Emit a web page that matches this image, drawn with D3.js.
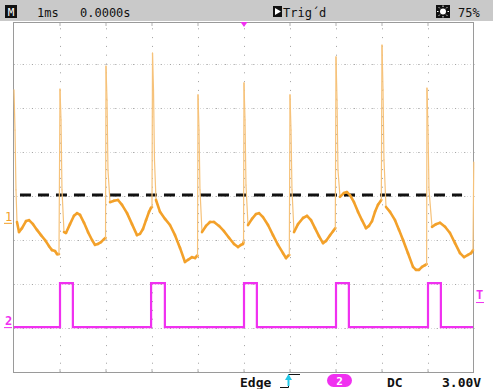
<!DOCTYPE html>
<html>
<head>
<meta charset="utf-8">
<script src="https://cdnjs.cloudflare.com/ajax/libs/d3/7.8.5/d3.min.js"></script>
<style>
  html, body { margin: 0; padding: 0; background: #fff; }
  svg { display: block; }
  text { font-family: "DejaVu Sans Mono", monospace; }
</style>
</head>
<body>
<figure id="scope" style="margin:0"></figure>
<script>
// ---- data (time in ms, level in divisions from centre) ----
const timeDivs = 10;        // 1 ms / div
const levelDivs = 8;

// channel 1 (orange) samples [ms, div]
const ch1Trace = [
  [0.000, 2.41], [0.022, 1.50], [0.043, 0.14], [0.065, -0.59], [0.109, -0.82],
  [0.174, -0.73], [0.261, -0.57], [0.326, -0.55], [0.413, -0.64], [0.500, -0.77],
  [0.587, -0.89], [0.674, -1.00], [0.761, -1.14], [0.826, -1.23], [0.891, -1.25],
  [0.935, -1.32], [0.978, -1.32],
  [1.000, 2.43], [1.022, 1.73], [1.043, 0.14], [1.087, -0.82], [1.130, -0.84],
  [1.217, -0.64], [1.304, -0.45], [1.370, -0.39], [1.435, -0.43], [1.522, -0.61],
  [1.609, -0.82], [1.696, -1.00], [1.761, -1.11], [1.826, -1.09], [1.891, -1.05],
  [1.957, -0.98], [1.990, -0.95],
  [2.000, 2.95], [2.022, 2.18], [2.043, 0.59], [2.087, -0.14], [2.174, -0.11],
  [2.261, -0.09], [2.348, -0.20], [2.457, -0.39], [2.565, -0.64], [2.674, -0.89],
  [2.739, -0.86], [2.804, -0.75], [2.870, -0.55], [2.935, -0.36], [2.978, -0.27],
  [3.000, -0.25],
  [3.011, 3.25], [3.033, 2.41], [3.054, 0.82], [3.087, -0.09], [3.174, -0.36],
  [3.283, -0.52], [3.391, -0.66], [3.500, -0.89], [3.609, -1.18], [3.717, -1.50],
  [3.783, -1.45], [3.870, -1.39], [3.935, -1.41], [3.978, -1.36], [3.990, -1.36],
  [4.000, 2.30], [4.022, 1.50], [4.043, 0.14], [4.087, -0.82], [4.174, -0.68],
  [4.261, -0.59], [4.348, -0.59], [4.457, -0.68], [4.565, -0.80], [4.674, -0.95],
  [4.783, -1.09], [4.870, -1.16], [4.935, -1.11], [4.978, -1.09], [4.990, -1.05],
  [5.000, 2.57], [5.022, 1.73], [5.043, 0.25], [5.087, -0.66], [5.174, -0.52],
  [5.261, -0.41], [5.326, -0.39], [5.413, -0.48], [5.522, -0.66], [5.630, -0.89],
  [5.739, -1.11], [5.848, -1.30], [5.913, -1.41], [5.957, -1.36], [5.985, -1.34],
  [6.000, 2.30], [6.022, 1.50], [6.043, 0.14], [6.087, -0.82], [6.174, -0.64],
  [6.283, -0.50], [6.370, -0.45], [6.457, -0.55], [6.543, -0.73], [6.630, -0.91],
  [6.717, -1.07], [6.783, -1.02], [6.870, -0.89], [6.935, -0.80], [6.985, -0.73],
  [7.000, 3.16], [7.022, 2.18], [7.043, 0.59], [7.087, -0.02], [7.174, 0.07],
  [7.239, 0.09], [7.304, 0.02], [7.391, -0.14], [7.478, -0.36], [7.565, -0.55],
  [7.652, -0.73], [7.717, -0.68], [7.783, -0.57], [7.848, -0.36], [7.913, -0.20],
  [7.985, -0.09],
  [8.000, 3.43], [8.022, 2.41], [8.043, 0.82], [8.087, -0.25], [8.174, -0.36],
  [8.283, -0.55], [8.370, -0.77], [8.457, -1.00], [8.565, -1.30], [8.674, -1.61],
  [8.739, -1.68], [8.804, -1.68], [8.870, -1.61], [8.935, -1.57], [8.970, -1.55],
  [8.978, 2.45], [9.000, 1.50], [9.022, 0.14], [9.087, -0.70], [9.174, -0.64],
  [9.261, -0.61], [9.370, -0.70], [9.478, -0.84], [9.587, -1.07], [9.696, -1.30],
  [9.783, -1.39], [9.870, -1.34], [9.935, -1.30], [9.978, -1.23], [9.995, 0.77]
];

// channel 2 (magenta) square pulses
const ch2Rise = [1.00, 2.98, 5.00, 7.00, 9.00];
const ch2Fall = [1.28, 3.28, 5.28, 7.28, 9.28];
const ch2Levels = { low: -2.98, high: -1.98 };
const ch2End = 9.98;

// reference markers
const ch1Ground = -0.61;
const triggerLevel = -2.41;
const cursorLevel = 0.02;
const cursorSpan = [0.13, 9.74];
const triggerTime = 5.0;

// header / footer readouts
const headerLabels = ["1ms", "0.0000s"];
const triggerState = "Trig\u00b4d";
const brightness = "75%";
const footerLabels = ["Edge", "DC", "3.00V"];
const triggerSource = "2";

// ---- layout ----
const W = 493, H = 389;
const plot = { left: 14, right: 474, top: 20, bottom: 372 };

const x = d3.scaleLinear().domain([0, timeDivs]).range([plot.left, plot.right]);
const y = d3.scaleLinear().domain([-levelDivs / 2, levelDivs / 2]).range([plot.bottom, plot.top]);

const orange = "#f3a12a", orangeThin = "#f6c27a", magenta = "#f030f0";

const svg = d3.select("figure#scope").append("svg")
  .attr("width", W).attr("height", H)
  .attr("viewBox", `0 0 ${W} ${H}`);

// graticule
const grid = svg.append("g");
d3.range(1, timeDivs).forEach(k => {
  const gx = Math.round(x(k)) + 0.5;
  grid.selectAll(null).data(d3.range(0, levelDivs * 5 + 1)).enter().append("rect")
    .attr("x", gx - 0.5).attr("y", d => y(-levelDivs / 2 + d / 5) - 0.5)
    .attr("width", 1).attr("height", 1)
    .attr("fill", "#a0a0a0");
});
d3.range(-levelDivs / 2 + 1, levelDivs / 2).forEach(k => {
  const gy = Math.round(y(k));
  grid.append("line")
    .attr("x1", plot.left).attr("x2", plot.right)
    .attr("y1", gy + 0.5).attr("y2", gy + 0.5)
    .attr("stroke", "#dadada").attr("stroke-dasharray", "1,2");
  grid.selectAll(null).data(d3.range(0, timeDivs * 5 + 1)).enter().append("rect")
    .attr("x", d => x(d / 5) - 0.5).attr("y", gy)
    .attr("width", 1).attr("height", 1)
    .attr("fill", "#a0a0a0");
});

// frame
svg.append("rect")
  .attr("x", plot.left - 0.5).attr("y", plot.top + 2.5)
  .attr("width", plot.right - plot.left).attr("height", plot.bottom - plot.top - 2)
  .attr("fill", "none").attr("stroke", "#9a9a9a");

// small ticks on top and bottom of frame
d3.range(1, timeDivs).forEach(k => {
  svg.append("line").attr("x1", x(k)).attr("x2", x(k)).attr("y1", plot.top + 3).attr("y2", plot.top + 6).attr("stroke", "#b0b0b0");
  svg.append("line").attr("x1", x(k)).attr("x2", x(k)).attr("y1", plot.bottom - 3).attr("y2", plot.bottom).attr("stroke", "#b0b0b0");
});

// cursor dashed line
svg.append("line")
  .attr("x1", x(cursorSpan[0])).attr("x2", x(cursorSpan[1]))
  .attr("y1", y(cursorLevel)).attr("y2", y(cursorLevel))
  .attr("stroke", "#111").attr("stroke-width", 3)
  .attr("stroke-dasharray", "11,7");

// channel 2 trace
const ch2Points = [[0, ch2Levels.low]];
ch2Rise.forEach((r, i) => {
  ch2Points.push([r, ch2Levels.low], [r, ch2Levels.high], [ch2Fall[i], ch2Levels.high], [ch2Fall[i], ch2Levels.low]);
});
ch2Points.push([ch2End, ch2Levels.low]);

svg.append("path")
  .datum(ch2Points)
  .attr("d", d3.line().x(d => x(d[0])).y(d => y(d[1])))
  .attr("fill", "none").attr("stroke", magenta).attr("stroke-width", 2.2);

// channel 1 trace: steep edges drawn thin, slow parts thick (noise band)
svg.append("g").selectAll("line").data(d3.pairs(ch1Trace)).enter().append("line")
  .attr("x1", d => x(d[0][0])).attr("y1", d => y(d[0][1]))
  .attr("x2", d => x(d[1][0])).attr("y2", d => y(d[1][1]))
  .attr("stroke-linecap", "round")
  .each(function(d) {
    const dx = Math.abs(x(d[1][0]) - x(d[0][0])) + 0.01;
    const dy = Math.abs(y(d[1][1]) - y(d[0][1]));
    const steep = dy / dx > 6;
    d3.select(this)
      .attr("stroke", steep ? orangeThin : orange)
      .attr("stroke-width", steep ? 1.2 : 2.6);
  });

// ---- side markers ----
svg.append("text").attr("x", 5).attr("y", y(ch1Ground) - 2)
  .attr("font-size", 12).attr("fill", orange).text("1");
svg.append("line").attr("x1", 4).attr("x2", 12).attr("y1", y(ch1Ground) + 0.5).attr("y2", y(ch1Ground) + 0.5)
  .attr("stroke", orange);

svg.append("text").attr("x", 5).attr("y", y(ch2Levels.low) - 2)
  .attr("font-size", 12).attr("font-weight", "bold").attr("fill", magenta).text("2");
svg.append("line").attr("x1", 4).attr("x2", 12).attr("y1", y(ch2Levels.low) + 0.5).attr("y2", y(ch2Levels.low) + 0.5)
  .attr("stroke", magenta);

svg.append("text").attr("x", 476).attr("y", y(triggerLevel) - 3)
  .attr("font-size", 12).attr("font-weight", "bold").attr("fill", magenta).text("T");
svg.append("line").attr("x1", 476).attr("x2", 484).attr("y1", y(triggerLevel) + 0.5).attr("y2", y(triggerLevel) + 0.5)
  .attr("stroke", magenta);

// ---- header bar ----
const header = svg.append("g");
header.append("rect").attr("x", 0).attr("y", 0).attr("width", W).attr("height", 21).attr("fill", "#c9c9c9");
header.append("rect").attr("x", 5).attr("y", 5).attr("width", 12).attr("height", 13).attr("fill", "#111");
header.append("text").attr("x", 11).attr("y", 16).attr("text-anchor", "middle")
  .attr("font-size", 11).attr("fill", "#fff").text("M");
header.append("text").attr("x", 37).attr("y", 17).attr("font-size", 12).attr("fill", "#111").text(headerLabels[0]);
header.append("text").attr("x", 80).attr("y", 17).attr("font-size", 12).attr("fill", "#111").text(headerLabels[1]);

header.append("rect").attr("x", 273).attr("y", 6).attr("width", 9).attr("height", 11).attr("fill", "#111");
header.append("path").attr("d", "M275,8 L281,11.5 L275,15 Z").attr("fill", "#fff");
header.append("text").attr("x", 283).attr("y", 17).attr("font-size", 12).attr("fill", "#111").text(triggerState);

header.append("rect").attr("x", 436).attr("y", 5).attr("width", 14).attr("height", 13).attr("fill", "#111");
header.append("circle").attr("cx", 443).attr("cy", 11.5).attr("r", 3).attr("fill", "#fff");
header.append("g").selectAll("line").data(d3.range(8)).enter().append("line")
  .attr("x1", d => 443 + Math.cos(d * Math.PI / 4) * 4.5).attr("y1", d => 11.5 + Math.sin(d * Math.PI / 4) * 4.5)
  .attr("x2", d => 443 + Math.cos(d * Math.PI / 4) * 6).attr("y2", d => 11.5 + Math.sin(d * Math.PI / 4) * 6)
  .attr("stroke", "#fff");
header.append("text").attr("x", 458).attr("y", 17).attr("font-size", 12).attr("fill", "#111").text(brightness);

// trigger position marker
svg.append("path")
  .attr("d", `M${x(triggerTime) - 3.5},${plot.top + 2} L${x(triggerTime) + 3.5},${plot.top + 2} L${x(triggerTime)},${plot.top + 7} Z`)
  .attr("fill", magenta);

// ---- footer ----
const footer = svg.append("g").attr("font-size", 13).attr("font-weight", "bold").attr("fill", "#111");
footer.append("text").attr("x", 240).attr("y", 387).text(footerLabels[0]);
footer.append("path").attr("d", "M280,387.5 H288.5 V374.5 H300").attr("fill", "none").attr("stroke", "#111");
footer.append("path").attr("d", "M288.5,386 V378").attr("stroke", "#22c8e8").attr("stroke-width", 2);
footer.append("path").attr("d", "M285,380 L288.5,374 L292,380 Z").attr("fill", "#22c8e8");
footer.append("rect").attr("x", 327).attr("y", 374).attr("width", 25).attr("height", 13).attr("rx", 6.5).attr("fill", magenta);
footer.append("text").attr("x", 339.5).attr("y", 385).attr("text-anchor", "middle")
  .attr("font-size", 11).attr("fill", "#fff").text(triggerSource);
footer.append("text").attr("x", 387).attr("y", 387).text(footerLabels[1]);
footer.append("text").attr("x", 442).attr("y", 387).text(footerLabels[2]);
</script>
</body>
</html>
